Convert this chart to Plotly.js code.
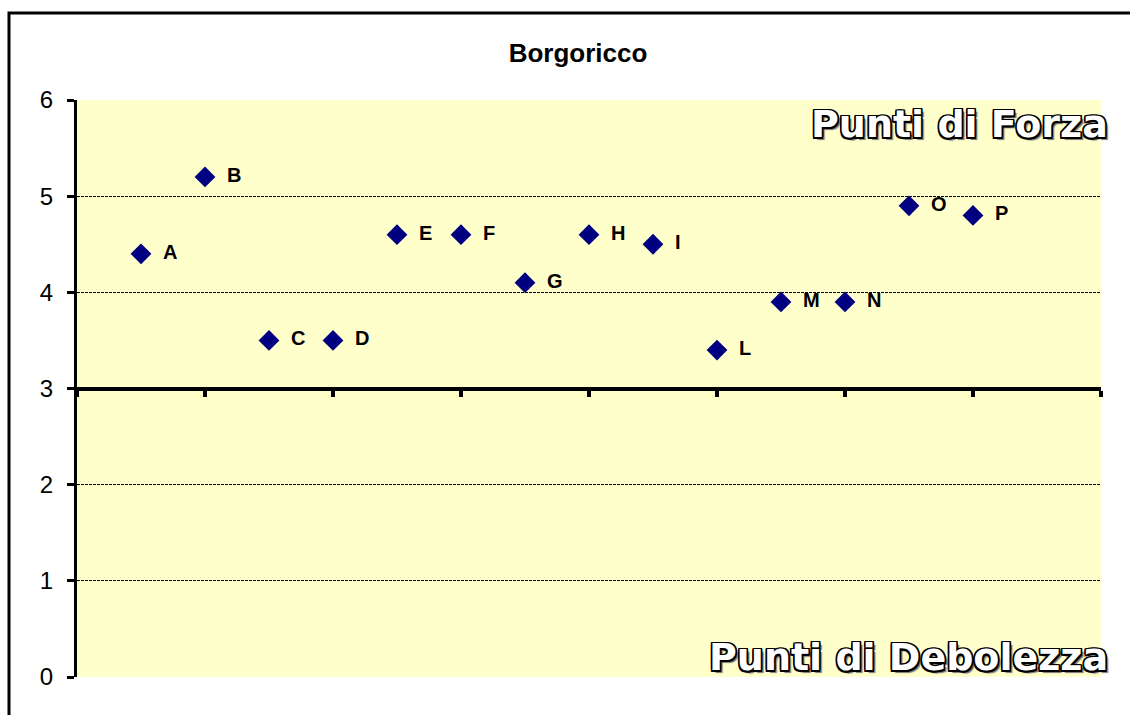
<!DOCTYPE html>
<html>
<head>
<meta charset="utf-8">
<script src="https://cdn.plot.ly/plotly-3.0.1.min.js"></script>
<style>
  html, body { margin: 0; padding: 0; background: #fff; }
  #chart { width: 1130px; height: 715px; }
</style>
</head>
<body>
<div id="chart"></div>
<script>
const labels = ["A","B","C","D","E","F","G","H","I","L","M","N","O","P"];
const xPos   = [1,2,3,4,5,6,7,8,9,10,11,12,13,14];
const scores = [4.4,5.2,3.5,3.5,4.6,4.6,4.1,4.6,4.5,3.4,3.9,3.9,4.9,4.8];
const chartTitle = "Borgoricco";
const topLabel = "Punti di Forza";
const bottomLabel = "Punti di Debolezza";

const W = 1130, H = 715;
const mL = 77, mR = 29, mT = 100, mB = 38;
const pw = W - mL - mR, ph = H - mT - mB;
const px = p => (p - mL) / pw;
const py = p => (H - mB - p) / ph;

const outline = "-1.5px -1.5px 0 #000, 1.5px -1.5px 0 #000, -1.5px 1.5px 0 #000, 1.5px 1.5px 0 #000, 0 1.5px 0 #000, 0 -1.5px 0 #000, 1.5px 0 0 #000, -1.5px 0 0 #000, 3px 3px 1px #777";

const trace = {
  x: xPos, y: scores, text: labels.map(l => "\u00A0\u00A0" + l),
  type: "scatter", mode: "markers+text",
  textposition: "middle right",
  textfont: {family: "Liberation Sans, Arial, sans-serif", size: 20, color: "#000", weight: "bold"},
  marker: {symbol: "diamond", size: 16, color: "#000080"},
  cliponaxis: false, hoverinfo: "skip"
};

const layout = {
  width: W, height: H,
  margin: {l: mL, r: mR, t: mT, b: mB},
  paper_bgcolor: "#ffffff",
  plot_bgcolor: "#FFFFCC",
  showlegend: false,
  font: {family: "Liberation Sans, Arial, sans-serif", color: "#000"},
  title: {
    text: chartTitle, xref: "container", x: 578 / W, y: 1 - 53 / H,
    xanchor: "center", yanchor: "middle",
    font: {family: "Liberation Sans, Arial, sans-serif", size: 26, color: "#000", weight: "bold"}
  },
  xaxis: {
    range: [0, 16], dtick: 2, tick0: 0,
    anchor: "free", position: 0.5,
    showline: true, linecolor: "#000", linewidth: 4,
    ticks: "outside", ticklen: 6, tickwidth: 4, tickcolor: "#000",
    showticklabels: false, showgrid: false, zeroline: false, fixedrange: true
  },
  yaxis: {
    range: [0, 6], dtick: 1, tick0: 0,
    showline: true, linecolor: "#000", linewidth: 3,
    ticks: "outside", ticklen: 7, tickwidth: 3, tickcolor: "#000",
    ticklabelstandoff: 9,
    tickfont: {family: "Liberation Sans, Arial, sans-serif", size: 24, color: "#000"},
    showgrid: true, gridcolor: "#000", gridwidth: 1, griddash: "3px,1px",
    zeroline: false, fixedrange: true
  },
  shapes: [{
    type: "path", xref: "paper", yref: "paper",
    path: `M ${px(9)} ${py(730)} L ${px(9)} ${py(13)} L ${px(1140)} ${py(13)}`,
    line: {color: "#000", width: 3}
  }],
  annotations: [
    {text: topLabel, xref: "paper", yref: "paper", x: px(1110), y: py(124),
     xanchor: "right", yanchor: "middle", showarrow: false,
     font: {family: "DejaVu Sans, Verdana, sans-serif", size: 38, color: "#fff", weight: "bold", shadow: outline}},
    {text: bottomLabel, xref: "paper", yref: "paper", x: px(1110), y: py(657),
     xanchor: "right", yanchor: "middle", showarrow: false,
     font: {family: "DejaVu Sans, Verdana, sans-serif", size: 38, color: "#fff", weight: "bold", shadow: outline}}
  ]
};

Plotly.newPlot("chart", [trace], layout, {displayModeBar: false, staticPlot: true});
</script>
</body>
</html>
